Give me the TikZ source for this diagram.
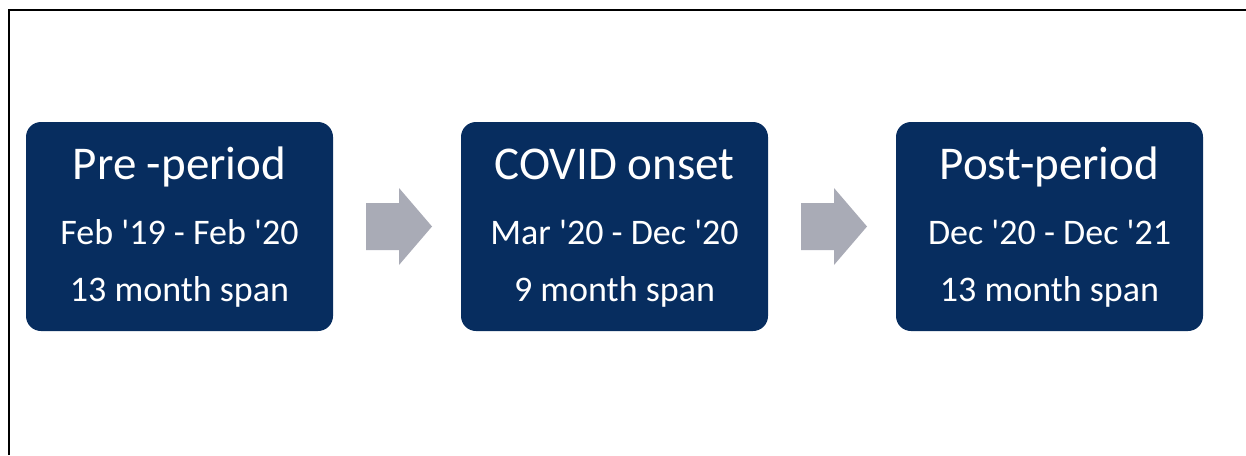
\documentclass[tikz,border=0pt]{standalone}
\usepackage{fontspec}
\setmainfont{Carlito}
\usetikzlibrary{positioning,calc}
\definecolor{navy}{HTML}{072D5F}
\definecolor{steel}{HTML}{A9ABB6}

\begin{document}
\begin{tikzpicture}[
    x=1pt, y=-1pt,
    period/.style={rectangle, rounded corners=15pt, fill=navy, draw=none,
                   minimum width=307pt, minimum height=209pt, inner sep=0pt},
    title/.style={anchor=base, text=white, inner sep=0pt,
                  font=\fontsize{47}{52}\selectfont},
    detail/.style={anchor=base, text=white, inner sep=0pt,
                   font=\fontsize{36}{42}\selectfont},
    flow/.style={fill=steel, draw=none}
]
\useasboundingbox (0,0) rectangle (1246,455);
% open frame
\draw[line width=2pt] (9,455) -- (9,10) -- (1246,10);

% Periods
\node[period] (pre)   at (179.5,226.5) {};
\node[period] (covid) at (614.5,226.5) {};
\node[period] (post)  at (1049.5,226.5) {};

% Text in the periods
\node[title]  (pretitle)   at ($(pre.north)+(0,58)$)   {Pre -period};
\node[detail] (predates)   at ($(pre.north)+(0,123)$)  {Feb \textquotesingle19 - Feb \textquotesingle20};
\node[detail] (prespan)    at ($(pre.north)+(0,180)$)  {13 month span};
\node[title]  (covidtitle) at ($(covid.north)+(0,58)$) {COVID onset};
\node[detail] (coviddates) at ($(covid.north)+(0,123)$) {Mar \textquotesingle20 - Dec \textquotesingle20};
\node[detail] (covidspan)  at ($(covid.north)+(0,180)$) {9 month span};
\node[title]  (posttitle)  at ($(post.north)+(0,58)$)  {Post-period};
\node[detail] (postdates)  at ($(post.north)+(0,123)$) {Dec \textquotesingle20 - Dec \textquotesingle21};
\node[detail] (postspan)   at ($(post.north)+(0,180)$) {13 month span};

% Block arrows between periods
\coordinate (step1) at ($(pre.east)!0.5!(covid.west)+(2,0)$);
\coordinate (step2) at ($(covid.east)!0.5!(post.west)+(2,0)$);
\foreach \s in {step1,step2}
  \fill[flow] ($(\s)+(-33,-23.5)$) -- ($(\s)+(0,-23.5)$) -- ($(\s)+(0,-38.5)$)
    -- ($(\s)+(33,0)$) -- ($(\s)+(0,38.5)$) -- ($(\s)+(0,23.5)$)
    -- ($(\s)+(-33,23.5)$) -- cycle;

\end{tikzpicture}
\end{document}
